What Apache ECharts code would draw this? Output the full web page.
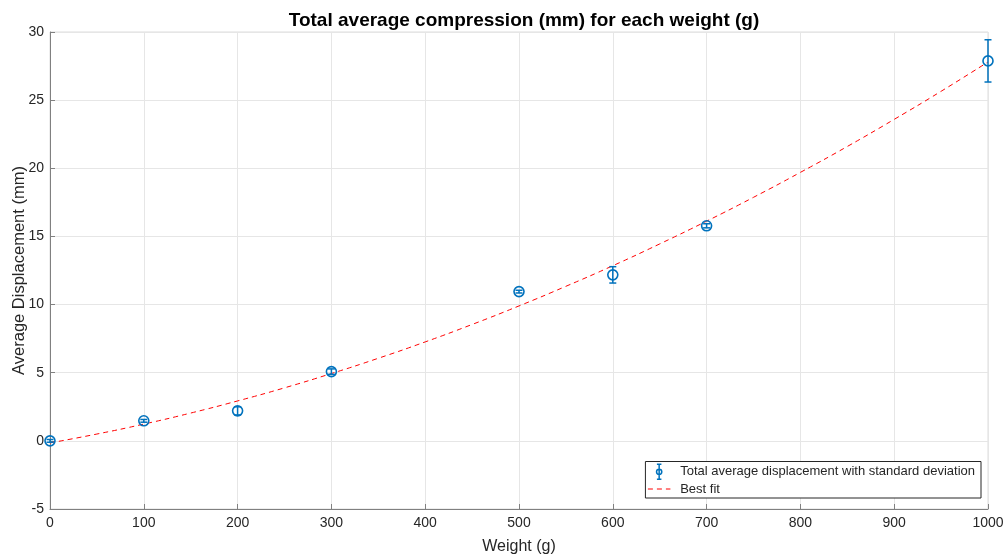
<!DOCTYPE html>
<html>
<head>
<meta charset="utf-8">
<script src="https://cdn.jsdelivr.net/npm/echarts@6/dist/echarts.min.js"></script>
<style>
  html, body { margin: 0; padding: 0; background: #fff; }
  #chart { width: 1005px; height: 556px; }
</style>
</head>
<body>
<div id="chart"></div>
<script>
// measured points (weight g, mean displacement mm, std dev mm)
const weights = [0, 100, 200, 300, 500, 600, 700, 1000]
const meanDisp = [0.0, 1.47, 2.2, 5.08, 10.95, 12.18, 15.78, 27.88]
const stdDev = [0.1, 0.1, 0.3, 0.2, 0.1, 0.6, 0.15, 1.55]

// best fit curve
const fitX = [0, 50, 100, 150, 200, 250, 300, 350, 400, 450, 500, 550, 600, 650, 700, 750, 800, 850, 900, 950, 1000]
const fitY = [-0.15, 0.50, 1.23, 2.04, 2.93, 3.89, 4.94, 6.06, 7.26, 8.54, 9.90, 11.34, 12.85, 14.45, 16.12, 17.87, 19.70, 21.60, 23.59, 25.65, 27.80]

const blue = '#0072BD'
const textColor = '#262626'
const font = "'Liberation Sans', Arial, sans-serif"

const pts = weights.map((w, i) => [w, meanDisp[i], stdDev[i]])
const fitData = fitX.map((x, i) => [x, fitY[i]])
const seriesName = 'Total average displacement with standard deviation'

let myChart = echarts.init(document.getElementById('chart'), null, {renderer: 'canvas'})

myChart.setOption({
    animation: false,
    title: {
        text: 'Total average compression (mm) for each weight (g)',
        left: 519,
        top: 6,
        textAlign: 'center',
        textStyle: {fontFamily: font, fontSize: 19, fontWeight: 'bold', color: '#000'}
    },
    grid: {
        left: 50, right: 17, top: 32, bottom: 47,
        outerBoundsMode: 'none',
        containLabel: false,
        show: true, borderColor: '#dcdcdc', borderWidth: 1
    },
    legend: {
        orient: 'vertical',
        right: 24,
        bottom: 58,
        itemGap: 1,
        itemWidth: 32,
        itemHeight: 15,
        padding: [2, 6, 1, 2],
        backgroundColor: '#fff',
        borderColor: '#262626',
        borderWidth: 1,
        borderRadius: 0,
        textStyle: {fontFamily: font, fontSize: 13, color: textColor},
        data: [
            {
                name: seriesName,
                icon: 'path://M5,0 L5,20 M2,0 L8,0 M2,20 L8,20 M5,6.5 A3.5,3.5 0 1 1 5,13.5 A3.5,3.5 0 1 1 5,6.5',
                itemStyle: {color: 'transparent', borderColor: blue, borderWidth: 1.5}
            },
            {
                name: 'Best fit',
                icon: 'path://M0,0 L0,0 M0,10 L30,10 M0,20 L0,20',
                itemStyle: {color: 'transparent', borderColor: '#ff0000', borderWidth: 1, borderType: [5, 4]}
            }
        ]
    },
    xAxis: {
        type: 'value',
        min: 0, max: 1000, interval: 100,
        name: 'Weight (g)',
        nameLocation: 'middle',
        nameGap: 30,
        nameTextStyle: {fontFamily: font, fontSize: 16, color: textColor},
        axisLine: {show: true, onZero: false, lineStyle: {color: '#808080', width: 1}},
        axisTick: {show: true, inside: true, length: 5, lineStyle: {color: '#808080'}},
        axisLabel: {fontFamily: font, fontSize: 14, color: textColor, margin: 7, formatter: v => String(v)},
        splitLine: {show: true, lineStyle: {color: '#e6e6e6', width: 1}}
    },
    yAxis: {
        type: 'value',
        min: -5, max: 30, interval: 5,
        name: 'Average Displacement (mm)',
        nameLocation: 'middle',
        nameGap: 22,
        nameMoveOverlap: false,
        nameTextStyle: {fontFamily: font, fontSize: 16.5, color: textColor},
        axisLine: {show: true, onZero: false, lineStyle: {color: '#808080', width: 1}},
        axisTick: {show: true, inside: true, length: 5, lineStyle: {color: '#808080'}},
        axisLabel: {fontFamily: font, fontSize: 14, color: textColor, margin: 6},
        splitLine: {show: true, lineStyle: {color: '#e6e6e6', width: 1}}
    },
    series: [
        {
            name: 'Best fit',
            type: 'line',
            data: fitData,
            smooth: true,
            symbol: 'none',
            z: 3,
            lineStyle: {color: '#ff0000', width: 1, type: [5, 4]},
            itemStyle: {color: '#ff0000'}
        },
        {
            name: seriesName,
            type: 'custom',
            data: pts,
            z: 4,
            itemStyle: {color: blue},
            renderItem: function (params, api) {
                const x = api.value(0)
                const m = api.value(1)
                const s = api.value(2)
                const top = api.coord([x, m + s])
                const bot = api.coord([x, m - s])
                const c = api.coord([x, m])
                const hw = 3.5
                const style = {stroke: blue, lineWidth: 1.5, fill: null}
                return {
                    type: 'group',
                    children: [
                        {type: 'line', shape: {x1: top[0], y1: top[1], x2: bot[0], y2: bot[1]}, style: style},
                        {type: 'line', shape: {x1: top[0] - hw, y1: top[1], x2: top[0] + hw, y2: top[1]}, style: style},
                        {type: 'line', shape: {x1: bot[0] - hw, y1: bot[1], x2: bot[0] + hw, y2: bot[1]}, style: style},
                        {type: 'circle', shape: {cx: c[0], cy: c[1], r: 5}, style: {stroke: blue, lineWidth: 1.6, fill: 'transparent'}}
                    ]
                }
            }
        }
    ]
})
window.onresize = function () {
    myChart.resize()
}
</script>
</body>
</html>
